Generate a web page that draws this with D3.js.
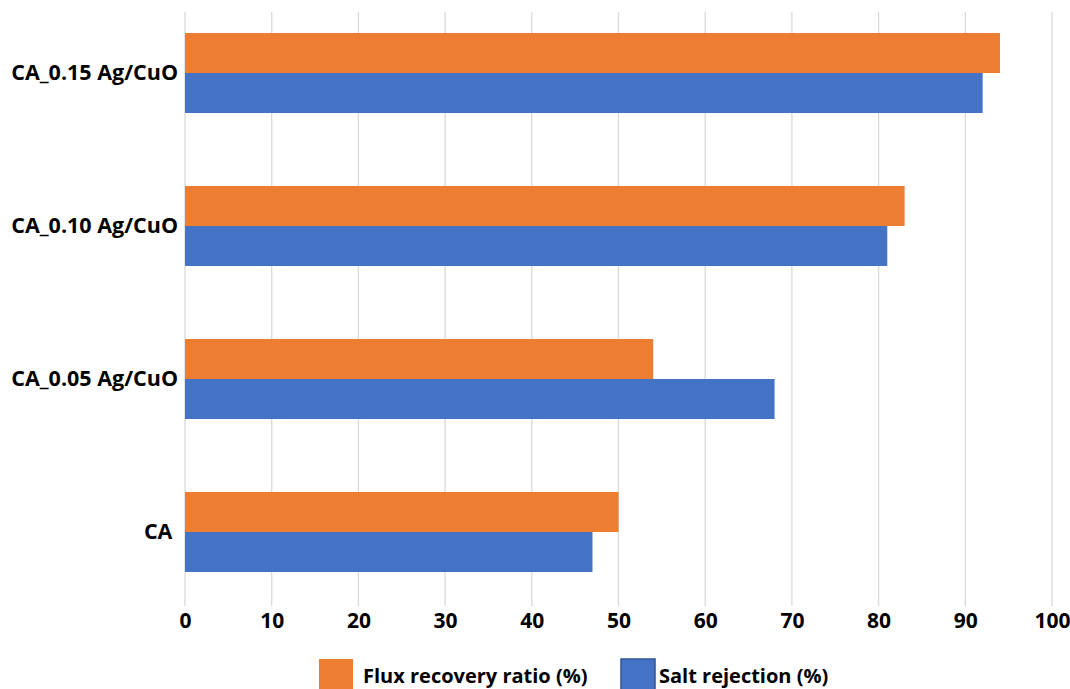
<!DOCTYPE html>
<html>
<head>
<meta charset="utf-8">
<script src="https://cdn.jsdelivr.net/npm/d3@7"></script>
<style>
  html, body { margin: 0; padding: 0; background: #fff; }
  svg { display: block; }
  svg text { font-family: "Open Sans", "Liberation Sans", sans-serif; font-weight: bold; }
</style>
</head>
<body>
<svg id="chart" width="1070" height="689"></svg>
<script>
// Membrane samples, top to bottom
const categories = ["CA_0.15 Ag/CuO", "CA_0.10 Ag/CuO", "CA_0.05 Ag/CuO", "CA"];
const seriesNames = ["Flux recovery ratio (%)", "Salt rejection (%)"];
const fluxRecovery = [94, 83, 54, 50];
const saltRejection = [92, 81, 68, 47];
const xTicks = [0, 10, 20, 30, 40, 50, 60, 70, 80, 90, 100];

const colors = ["#ED7D31", "#4472C4"];
const svg = d3.select("#chart");

const x = d3.scaleLinear().domain([0, 100]).range([185, 1052]);
const y = d3.scaleBand().domain(categories).range([-3.5, 608.5])
  .paddingInner(0.477).paddingOuter(0.2385);
const sub = d3.scaleBand().domain(seriesNames).range([0, y.bandwidth()]);

// vertical gridlines
svg.append("g").selectAll("line").data(xTicks).join("line")
  .attr("x1", d => x(d)).attr("x2", d => x(d))
  .attr("y1", 12).attr("y2", 606)
  .attr("stroke", "#d9d9d9").attr("stroke-width", 1.3);

// bars
const rows = categories.map((c, i) => ({ c, vals: [fluxRecovery[i], saltRejection[i]] }));
const g = svg.append("g").selectAll("g").data(rows).join("g")
  .attr("transform", d => `translate(0,${y(d.c)})`);
g.selectAll("rect").data(d => d.vals.map((v, k) => ({ v, k }))).join("rect")
  .attr("x", x(0))
  .attr("y", d => sub(seriesNames[d.k]))
  .attr("width", d => x(d.v) - x(0))
  .attr("height", sub.bandwidth())
  .attr("fill", d => colors[d.k]);

// x axis tick labels
const xAxis = d3.axisBottom(x).tickValues(xTicks).tickSize(0).tickPadding(0);
const xa = svg.append("g").attr("transform", "translate(0,621)").call(xAxis)
  .attr("font-family", null).attr("font-size", 21);
xa.select(".domain").remove();
xa.selectAll("text").attr("fill", "#000").attr("dy", "0.35em");

// category labels
const yAxis = d3.axisLeft(y).tickSize(0).tickPadding(0)
  .tickFormat(d => d === "CA" ? "CA\u00a0" : d);
const ya = svg.append("g").attr("transform", "translate(178,0)").call(yAxis)
  .attr("font-family", null).attr("font-size", 21.5);
ya.select(".domain").remove();
ya.selectAll("text").attr("fill", "#000");

// legend
const legendX = [319, 621];
const leg = svg.append("g").selectAll("g").data(seriesNames).join("g")
  .attr("transform", (d, i) => `translate(${legendX[i]},659)`);
leg.append("rect").attr("width", 34).attr("height", 34)
  .attr("fill", (d, i) => colors[i])
  .attr("stroke", (d, i) => i === 1 ? "#2F5597" : "none")
  .attr("stroke-width", 1.5);
leg.append("text").attr("x", (d, i) => i === 0 ? 44 : 38).attr("y", 17).attr("dy", "0.35em")
  .attr("font-size", 20).attr("fill", "#000").text(d => d);
</script>
</body>
</html>
